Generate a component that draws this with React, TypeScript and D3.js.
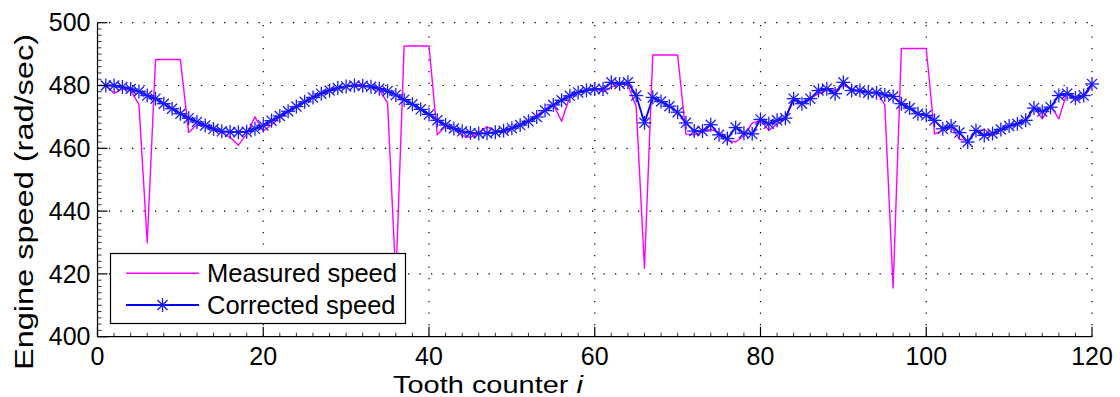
import { useMemo } from 'react'
import * as d3 from 'd3'

// tooth index 1..120
const teeth = d3.range(1, 121)

const measuredSpeed = [
  480, 477.5, 479, 478.5, 474, 429.9, 488.3, 488.3, 488.3, 488.3,
  465, 467.5, 467, 465.8, 465, 463.5, 461, 464.5, 470, 465.5,
  467.5, 469.8, 471.5, 473, 474.8, 476.5, 477.8, 478.8, 479.2, 479.8,
  480.2, 480.3, 479.5, 478.6, 474.5, 418, 492.6, 492.6, 492.6, 492.6,
  464.3, 467, 466.5, 464, 463.5, 465, 466.8, 465.5, 465, 466.5,
  467.5, 469, 470.5, 472.5, 474, 468.6, 476.5, 478, 478.5, 479,
  478, 479.5, 480.5, 480.2, 473.2, 421.8, 489.7, 489.7, 489.7, 489.7,
  464.5, 464.3, 465.5, 466, 465, 462.5, 462, 464, 468, 469,
  465.7, 467.7, 469.4, 475.2, 474.7, 475.8, 477.4, 478.7, 478.4, 480,
  479, 478, 477.9, 477.9, 473.8, 415.5, 491.8, 491.8, 491.8, 491.8,
  464.5, 465.7, 466.8, 463, 462.2, 465.2, 466, 464.1, 466, 467,
  468, 469, 473.1, 469.4, 473.7, 469.4, 477.9, 475.2, 476.3, 480,
]

const correctedSpeed = [
  480, 480, 479.5, 478.9, 478.1, 476.8, 475.8, 474.2, 472.6, 471,
  469.6, 468.4, 467.3, 466.2, 465.4, 465.2, 465.1, 465.3, 466.2, 467.3,
  468.8, 470.3, 471.8, 473.3, 474.8, 476.2, 477.4, 478.4, 479.2, 479.7,
  480, 479.9, 479.6, 479, 478.2, 477, 475.5, 474, 472.4, 470.8,
  468.9, 467.4, 466.3, 465.4, 464.9, 464.7, 464.8, 465.1, 465.6, 466.4,
  467.4, 468.6, 470, 472, 473.8, 475.3, 476.7, 477.8, 478.5, 478.9,
  478.9, 481, 480.5, 481, 476.8, 468.1, 476.2, 474.9, 473.4, 471.5,
  468.1, 465.5, 465.5, 467.5, 464.3, 463.1, 466.6, 464.8, 464.6, 469.2,
  467.8, 468.9, 469.6, 475.8, 474.2, 475.8, 478.4, 479, 477.4, 481,
  478.4, 478.4, 477.7, 477.7, 477, 476.5, 474.2, 472.8, 471, 470.5,
  468.9, 466.2, 467.1, 465, 462, 465.7, 464.1, 464.7, 466, 467.1,
  467.8, 468.9, 472.8, 471.7, 473.1, 476.8, 477.4, 476, 476.8, 480.5,
]

const xTicks = [0, 20, 40, 60, 80, 100, 120]
const yTicks = [400, 420, 440, 460, 480, 500]
const legendLabels = ['Measured speed', 'Corrected speed']

const W = 1120
const H = 397
const margin = { top: 22.7, right: 28, bottom: 60.3, left: 97.5 }
const FONT = '"Liberation Sans", Arial, Helvetica, sans-serif'

function Star({ x, y, r, color }) {
  const d = r * 0.72
  return (
    <g stroke={color} strokeWidth={1.3}>
      <line x1={x - r} y1={y} x2={x + r} y2={y} />
      <line x1={x} y1={y - r} x2={x} y2={y + r} />
      <line x1={x - d} y1={y - d} x2={x + d} y2={y + d} />
      <line x1={x - d} y1={y + d} x2={x + d} y2={y - d} />
    </g>
  )
}

export default function App() {
  const innerW = W - margin.left - margin.right
  const innerH = H - margin.top - margin.bottom

  const x = useMemo(() => d3.scaleLinear().domain([0, 120]).range([margin.left, margin.left + innerW]), [])
  const y = useMemo(() => d3.scaleLinear().domain([400, 500]).range([margin.top + innerH, margin.top]), [])

  const line = d3.line<number>().x((_, i) => x(teeth[i])).y(v => y(v))
  const measuredPath = line(measuredSpeed)
  const correctedPath = line(correctedSpeed)

  const xMinor = d3.range(0, 121, 2).filter(v => v % 20 !== 0)
  const yMinor = d3.range(400, 501, 2).filter(v => v % 20 !== 0)

  const x0 = margin.left
  const x1 = margin.left + innerW
  const y0 = margin.top + innerH
  const y1 = margin.top

  // legend box
  const lg = { x: 110.5, y: 253.5, w: 295, h: 70 }

  return (
    <svg width={W} height={H} style={{ position: 'absolute', left: 0, top: 0, background: '#fff' }} fontFamily={FONT}>
      <rect width={W} height={H} fill="#fff" />
      {/* dotted grid */}
      <g stroke="#000" strokeWidth={1.2} strokeDasharray="1.3 10.2">
        {xTicks.filter(t => t !== 0).map(t => (
          <line key={'gx' + t} x1={x(t)} x2={x(t)} y1={y0} y2={y1} />
        ))}
        {yTicks.filter(t => t !== 400).map(t => (
          <line key={'gy' + t} x1={x0} x2={x1} y1={y(t)} y2={y(t)} />
        ))}
      </g>

      {/* series */}
      <path d={measuredPath} fill="none" stroke="#ff00ff" strokeWidth={1.4} strokeLinejoin="round" />
      <path d={correctedPath} fill="none" stroke="#0000ff" strokeWidth={1.8} strokeLinejoin="round" />
      {correctedSpeed.map((v, i) => (
        <Star key={i} x={x(teeth[i])} y={y(v)} r={7} color="#1a1aff" />
      ))}

      {/* axes */}
      <g stroke="#000" strokeWidth={1.2}>
        <line x1={x0} x2={x1} y1={y0} y2={y0} />
        <line x1={x0} x2={x0} y1={y0} y2={y1} />
        {xTicks.map(t => (
          <line key={'tx' + t} x1={x(t)} x2={x(t)} y1={y0} y2={y0 - 10} />
        ))}
        {yTicks.map(t => (
          <line key={'ty' + t} x1={x0} x2={x0 + 10} y1={y(t)} y2={y(t)} />
        ))}
        {xMinor.map(t => (
          <line key={'mx' + t} x1={x(t)} x2={x(t)} y1={y0} y2={y0 - 4} strokeWidth={0.8} />
        ))}
        {yMinor.map(t => (
          <line key={'my' + t} x1={x0} x2={x0 + 4} y1={y(t)} y2={y(t)} strokeWidth={0.8} />
        ))}
      </g>

      {/* tick labels */}
      <g fontSize={25} fill="#000">
        {xTicks.map(t => (
          <text key={'lx' + t} x={x(t)} y={y0 + 28.5} textAnchor="middle">{t}</text>
        ))}
        {yTicks.map(t => (
          <text key={'ly' + t} x={x0 - 7} y={y(t)} dy="0.35em" textAnchor="end">{t}</text>
        ))}
      </g>

      {/* axis titles */}
      <text x={393} y={392.5} fontSize={24.5} fill="#000" textLength={190} lengthAdjust="spacingAndGlyphs">
        Tooth counter <tspan fontStyle="italic">i</tspan>
      </text>
      <text transform={`translate(33,202) rotate(-90)`} textAnchor="middle" fontSize={26} fill="#000" textLength={336} lengthAdjust="spacingAndGlyphs">
        Engine speed (rad/sec)
      </text>

      {/* legend */}
      <g>
        <rect x={lg.x} y={lg.y} width={lg.w} height={lg.h} fill="#fff" stroke="#000" strokeWidth={1.2} />
        <line x1={126} x2={199} y1={lg.y + 19.8} y2={lg.y + 19.8} stroke="#ff00ff" strokeWidth={1.4} />
        <line x1={126} x2={199} y1={lg.y + 51.5} y2={lg.y + 51.5} stroke="#0000ff" strokeWidth={1.8} />
        <Star x={162.5} y={lg.y + 51.5} r={7} color="#1a1aff" />
        {legendLabels.map((l, i) => (
          <text key={l} x={207} y={lg.y + 19.8 + i * 31.7} dy="0.35em" fontSize={25.5} fill="#000">{l}</text>
        ))}
      </g>
    </svg>
  )
}
